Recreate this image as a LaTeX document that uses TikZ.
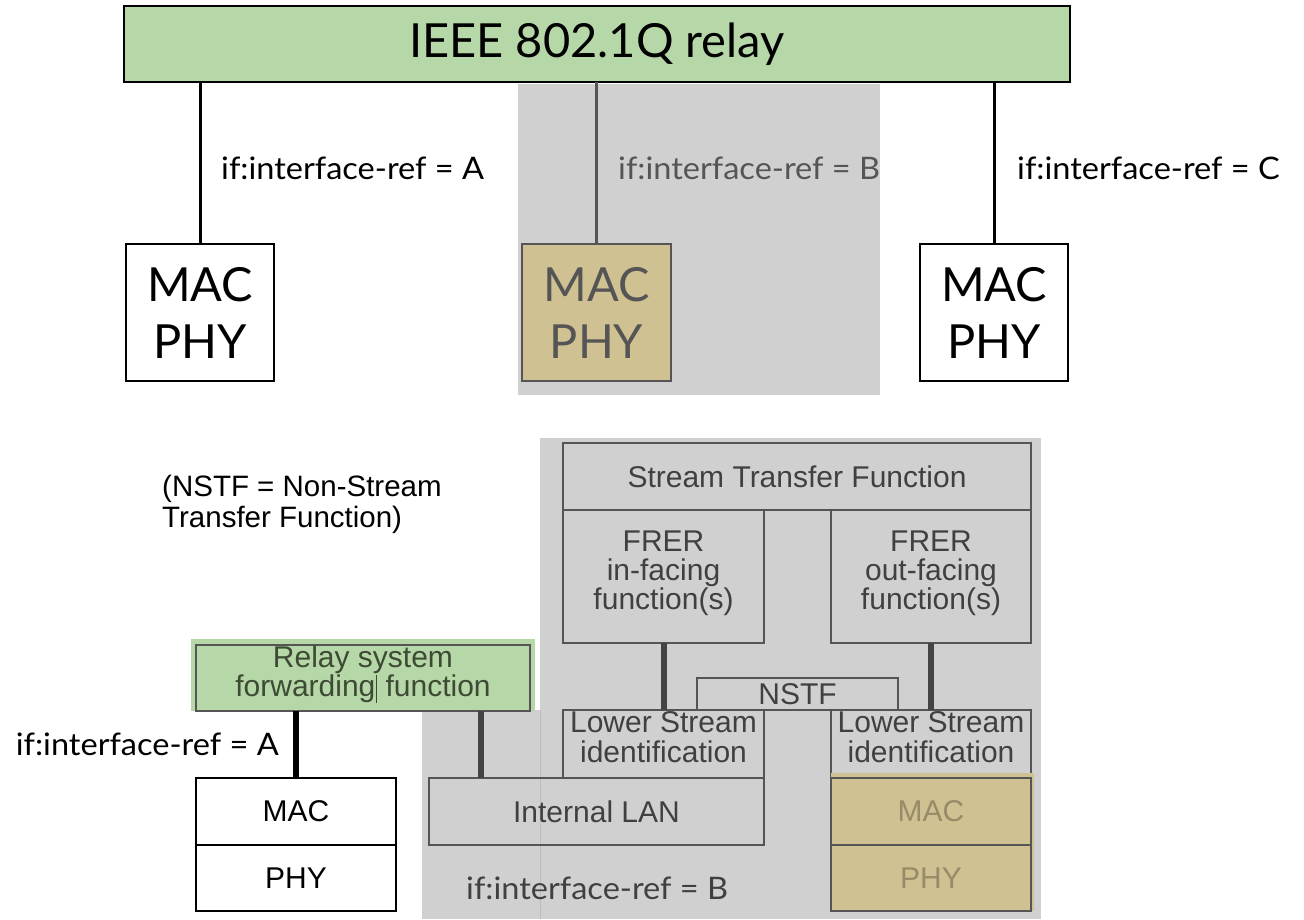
\documentclass[tikz,border=0pt]{standalone}
\usepackage{fontspec}
\setmainfont{Liberation Sans}
\newfontfamily\slidefont{Lato}
\newfontfamily\slidelabelfont[FakeStretch=1.05]{Lato}
\usetikzlibrary{calc}
\definecolor{relaygreen}{HTML}{B6D7A8}
\definecolor{zonegray}{HTML}{D0D0D0}
\definecolor{seamgray}{HTML}{BDBDBD}
\definecolor{porttan}{HTML}{CFC191}
\definecolor{boxline}{HTML}{555555}
\definecolor{boxtext}{HTML}{404040}
\definecolor{tantext}{HTML}{978B68}
\definecolor{greentext}{HTML}{3E4B34}
\definecolor{linkgray}{HTML}{444444}

% multi-line block caption, centred on the block's middle
\newcommand{\fnstack}[2][-4pt]{\raisebox{#1}[0pt][0pt]{\begin{tabular}{@{}c@{}}#2\end{tabular}}}

\tikzset{
  % upper sketch: slide-style boxes and labels
  slidebox/.style={draw=black, line width=2pt, inner sep=0pt, outer sep=0pt,
    align=center, font=\slidefont\fontsize{47}{57}\selectfont},
  slidelink/.style={line width=3pt, draw=black},
  slidelabel/.style={inner sep=0pt, anchor=west, font=\slidelabelfont\fontsize{31}{34}\selectfont},
  % lower sketch: standard-style function blocks
  fnbox/.style={draw=boxline, line width=1.6pt, inner sep=0pt, outer sep=0pt,
    align=center, text=boxtext, font=\fontsize{30}{30}\selectfont},
  fnlink/.style={line width=6pt, draw=linkgray},
  note/.style={inner sep=0pt, align=left, font=\fontsize{29.5}{31}\selectfont},
}

\begin{document}
\begin{tikzpicture}[x=1pt, y=-1pt]
\useasboundingbox (0,0) rectangle (1304,919);
\fill[white] (0,0) rectangle (1304,919);

% ---------------- upper sketch ----------------
\fill[zonegray] (518,84) rectangle (880,395);

\node[slidebox, fill=relaygreen, minimum width=946pt, minimum height=76pt]
  (relay) at (597,44) {IEEE 802.1Q relay};

\node[slidebox, minimum width=148pt, minimum height=137pt]
  (portA) at (200,312.5) {MAC\\PHY};
\node[slidebox, fill=porttan, draw=boxline, text=boxline,
  minimum width=149pt, minimum height=137pt]
  (portB) at (596.5,312.5) {MAC\\PHY};
\node[slidebox, minimum width=148pt, minimum height=137pt]
  (portC) at (994,312.5) {MAC\\PHY};

\draw[slidelink] (portA.north |- relay.south) -- (portA.north);
\draw[slidelink, draw=boxline, line width=2.5pt] (portB.north |- relay.south) -- (portB.north);
\draw[slidelink] (portC.north |- relay.south) -- (portC.north);

\node[slidelabel] (labA) at (221,168) {if:interface-ref = A};
\node[slidelabel, text=boxline] (labB) at (618,168) {if:interface-ref = B};
\node[slidelabel] (labC) at (1017,168) {if:interface-ref = C};

% ---------------- lower sketch ----------------
\fill[zonegray] (540,438) rectangle (1041,919);
\fill[zonegray] (422,710) rectangle (540,919);
\draw[seamgray, line width=0.8pt] (540,710) -- (540,919);

\node[note, anchor=north west] (legend) at (162,475)
  {(NSTF = Non-Stream\\Transfer Function)};

\node[fnbox, minimum width=468pt, minimum height=67pt]
  (stf) at (797,476.5) {Stream Transfer Function};
\node[fnbox, minimum width=201pt, minimum height=133pt]
  (frerIn) at (663.5,576.5) {\fnstack{FRER\\[-2pt]in-facing\\[-2pt]function(s)}};
\node[fnbox, minimum width=200pt, minimum height=133pt]
  (frerOut) at (931,576.5) {\fnstack{FRER\\[-2pt]out-facing\\[-2pt]function(s)}};

\node[fnbox, minimum width=201pt, minimum height=32pt]
  (nstf) at (797.5,694) {NSTF};
\node[fnbox, minimum width=201pt, minimum height=68pt]
  (lsiL) at (663.5,744) {\fnstack{Lower Stream\\[-1pt]identification}};
\node[fnbox, minimum width=200pt, minimum height=68pt]
  (lsiR) at (931,744) {\fnstack{Lower Stream\\[-1pt]identification}};

\node[fnbox, minimum width=335pt, minimum height=67pt]
  (ilan) at (596.5,811.5) {Internal LAN};

% external port in the lower sketch, tinted
\fill[porttan] (831,773) rectangle (1034,911);
\node[fnbox, text=tantext, minimum width=200pt, minimum height=67pt]
  (macR) at (931,811.5) {MAC};
\node[fnbox, text=tantext, minimum width=200pt, minimum height=66pt]
  (phyR) at (931,878) {PHY};

% relay forwarding function, tinted
\fill[relaygreen] (191,639) rectangle (535,711);
\node[fnbox, text=greentext, minimum width=334pt, minimum height=66pt]
  (relaySys) at (363,678) {\fnstack{Relay system\\[-2pt]forwarding\hspace{1pt}\rule[-6pt]{0.8pt}{28pt} function}};

\node[fnbox, draw=black, text=black, minimum width=200pt, minimum height=67pt]
  (macL) at (296,811.5) {MAC};
\node[fnbox, draw=black, text=black, minimum width=200pt, minimum height=66pt]
  (phyL) at (296,878) {PHY};

% connectors
\draw[fnlink] (frerIn.south) -- (lsiL.north);
\draw[fnlink] (frerOut.south) -- (lsiR.north);
\coordinate (lanTap) at (481,778);
\draw[fnlink] (lanTap |- relaySys.south) -- (lanTap);
\draw[fnlink, draw=black] (macL.north |- relaySys.south) -- (macL.north);

\node[slidelabel, anchor=east] (labA2) at (279,744) {if:interface-ref = A};
\node[slidelabel, text=boxtext] (labB2) at (466,888) {if:interface-ref = B};
\end{tikzpicture}
\end{document}
